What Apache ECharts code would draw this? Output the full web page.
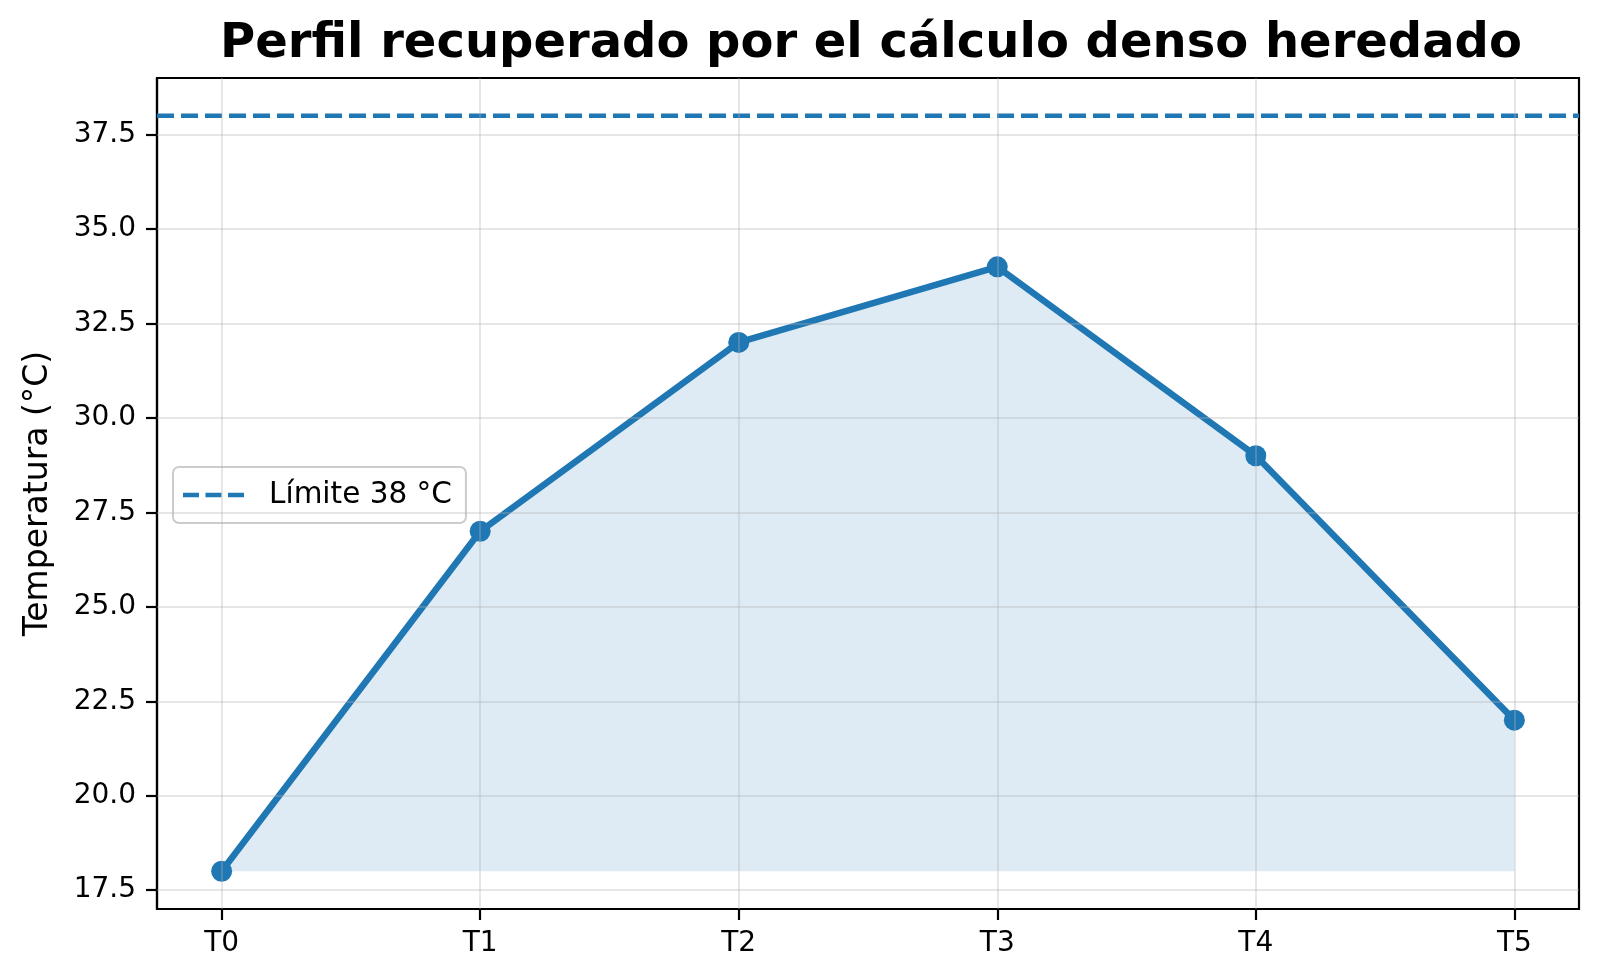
<!DOCTYPE html>
<html>
<head>
<meta charset="utf-8">
<title>Perfil recuperado</title>
<script src="https://cdn.jsdelivr.net/npm/echarts@6/dist/echarts.min.js"></script>
<style>
  html, body { margin: 0; padding: 0; background: #fff; }
  #chart { width: 1600px; height: 980px; }
</style>
</head>
<body>
<div id="chart"></div>
<script>
// datos
var categories = ['T0', 'T1', 'T2', 'T3', 'T4', 'T5'];
var temps = [18, 27, 32, 34, 29, 22];
var limite = 38;
var yTicks = [17.5, 20, 22.5, 25, 27.5, 30, 32.5, 35, 37.5];
var xTicks = [0, 1, 2, 3, 4, 5];

var azul = '#1f77b4';
var gris = 'rgba(176,176,176,0.32)';

var myChart = echarts.init(document.getElementById('chart'));

var puntos = temps.map(function (v, i) { return [i, v]; });
var xMin = -0.25, xMax = categories.length - 1 + 0.25;

var option = {
    backgroundColor: '#fff',
    animation: false,
    textStyle: { fontFamily: 'DejaVu Sans' },
    title: {
        text: 'Perfil recuperado por el cálculo denso heredado',
        left: 866,
        textAlign: 'center',
        top: 16,
        textStyle: { fontSize: 48, fontWeight: 'bold', color: '#000', fontFamily: 'DejaVu Sans' }
    },
    grid: {
        left: 157, right: 21, top: 78, bottom: 71,
        show: true,
        borderColor: '#000',
        borderWidth: 2.2,
        backgroundColor: 'transparent'
    },
    legend: {
        data: [{
            name: 'Límite 38 °C',
            // tres trazos, como la leyenda de matplotlib
            icon: 'path://M0,0H16V4.7H0Z M22.5,0H38.5V4.7H22.5Z M45,0H61V4.7H45Z'
        }],
        left: 173,
        top: 467,
        orient: 'vertical',
        padding: [13, 14, 13, 10],
        itemWidth: 61,
        itemHeight: 4.7,
        backgroundColor: 'rgba(255,255,255,0.8)',
        borderColor: '#cccccc',
        borderWidth: 2,
        borderRadius: 6,
        textStyle: { fontSize: 29.5, color: '#000', padding: [0, 0, 0, 20], fontFamily: 'DejaVu Sans' }
    },
    xAxis: {
        type: 'value',
        min: xMin,
        max: xMax,
        axisLine: { show: true, onZero: false, lineStyle: { color: '#000', width: 2.2 } },
        axisTick: {
            show: true, customValues: xTicks, length: 11,
            lineStyle: { color: '#000', width: 2.2 }
        },
        axisLabel: {
            customValues: xTicks, margin: 21, fontSize: 28, color: '#000',
            formatter: function (v) { return categories[Math.round(v)]; }
        },
        splitLine: { show: false }
    },
    yAxis: {
        type: 'value',
        min: 17,
        max: 39,
        name: 'Temperatura (°C)',
        nameLocation: 'middle',
        nameRotate: 90,
        nameGap: 102,
        nameTextStyle: { fontSize: 33, color: '#000' },
        axisLine: { show: true, onZero: false, lineStyle: { color: '#000', width: 2.2 } },
        axisTick: {
            show: true, customValues: yTicks, length: 11,
            lineStyle: { color: '#000', width: 2.2 }
        },
        axisLabel: {
            customValues: yTicks, margin: 21, fontSize: 28, color: '#000',
            formatter: function (v) { return v.toFixed(1); }
        },
        splitLine: { show: false }
    },
    series: [
        {
            // relleno hasta la primera temperatura
            name: 'relleno',
            type: 'line',
            data: puntos,
            z: 1,
            silent: true,
            symbol: 'none',
            lineStyle: { width: 0 },
            areaStyle: { color: azul, opacity: 0.15, origin: temps[0] }
        },
        {
            // líneas de rejilla
            name: 'rejilla',
            type: 'line',
            data: [],
            silent: true,
            z: 2,
            markLine: {
                silent: true,
                symbol: ['none', 'none'],
                label: { show: false },
                lineStyle: { color: gris, width: 2, type: 'solid' },
                data: yTicks.map(function (v) { return { yAxis: v }; })
                    .concat(xTicks.map(function (v) { return { xAxis: v }; }))
            }
        },
        {
            name: 'Temperatura',
            type: 'line',
            data: puntos,
            z: 3,
            symbol: 'circle',
            symbolSize: 21,
            lineStyle: { color: azul, width: 6.5 },
            itemStyle: { color: azul }
        },
        {
            name: 'Límite 38 °C',
            type: 'line',
            data: [[xMin, limite], [xMax, limite]],
            z: 4,
            symbol: 'none',
            lineStyle: { color: azul, width: 4.6, type: [17, 7] },
            itemStyle: { color: azul }
        }
    ]
};

myChart.setOption(option);
</script>
</body>
</html>
